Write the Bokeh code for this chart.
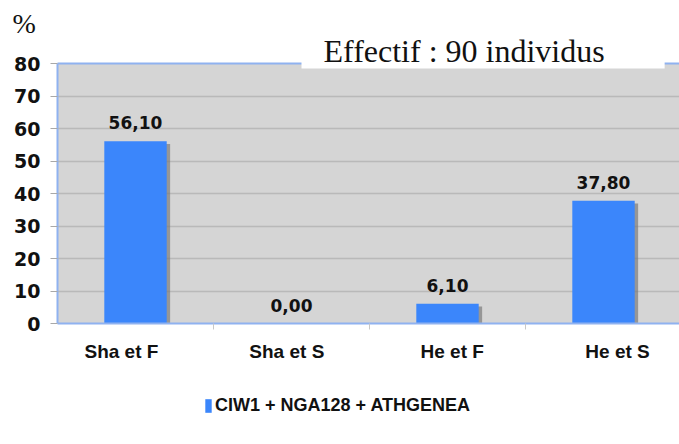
from bokeh.plotting import figure
from bokeh.models import (ColumnDataSource, FixedTicker, Label, Legend, LegendItem,
                          BoxAnnotation, LinearAxis)
from bokeh.core.properties import value
from bokeh.embed import file_html
from bokeh.resources import INLINE

categories = ["Sha et F", "Sha et S", "He et F", "He et S"]
values = [56.10, 0.00, 6.10, 37.80]
y_ticks = [0, 10, 20, 30, 40, 50, 60, 70, 80]
series_name = "CIW1 + NGA128 + ATHGENEA"
note = "Effectif : 90 individus"
unit = "%"

BAR = "#3b86fb"
BORDER = "#8fb2f0"
TXT = "#111111"

W, H = 679, 444
X0_PX, UNIT_X = 57, 156.0     # plot-area left edge and category width (px)
Y0_PX, UNIT_Y = 323, 3.25     # baseline and px per percent
x_start, x_end = -X0_PX / UNIT_X, (W - X0_PX) / UNIT_X
y_start, y_end = -(H - Y0_PX) / UNIT_Y, Y0_PX / UNIT_Y
LABEL_SPREAD = 1.06           # category labels sit slightly spread out

n = len(categories)
xs = [i + 0.5 for i in range(n)]
label_pos = [n / 2 + (i - (n - 1) / 2) * LABEL_SPREAD for i in range(n)]
labels = [f"{v:.2f}".replace(".", ",") for v in values]
src = ColumnDataSource(dict(x=xs, top=values, lab=labels,
                            sx=[x + 0.022 for x in xs],
                            stop=[max(v - 0.9, 0) for v in values]))

p = figure(width=W, height=H, x_range=(x_start, x_end), y_range=(y_start, y_end),
           output_backend="svg", toolbar_location=None,
           min_border=0, min_border_left=0, min_border_right=0,
           min_border_top=0, min_border_bottom=0)
p.background_fill_color = "white"
p.border_fill_color = "white"
p.outline_line_color = None

# plot area background
p.add_layout(BoxAnnotation(left=0, bottom=0, top=y_ticks[-1], fill_color="#d5d5d5",
                           fill_alpha=1, line_color=None, level="image"))

# grid
p.xgrid.grid_line_color = None
p.ygrid.grid_line_color = "#b9b9b9"
p.ygrid.grid_line_width = 1.5
p.ygrid.ticker = FixedTicker(ticks=y_ticks[1:-1])
p.ygrid.cross_bounds = (0, x_end)
p.ygrid.level = "underlay"

# shadow and bars
p.vbar(x="sx", top="stop", width=0.4, bottom=0, source=src,
       fill_color="#7a7a7a", fill_alpha=0.7, line_color=None)
bars = p.vbar(x="x", top="top", width=0.4, bottom=0, source=src,
              fill_color=BAR, line_color=None)

p.text(x="x", y="top", text="lab", source=src, text_align="center",
       text_baseline="bottom", y_offset=-12, text_font_size="17px",
       text_font_style="bold", text_font=value("DejaVu Sans"), text_color=TXT)

# axes
yax = p.yaxis[0]
yax.fixed_location = 0
yax.bounds = (0, y_ticks[-1])
yax.ticker = FixedTicker(ticks=y_ticks)
yax.axis_line_color = BORDER
yax.axis_line_width = 2
yax.major_tick_line_color = "#a8a8a8"
yax.major_tick_out = 7
yax.major_tick_in = 0
yax.minor_tick_line_color = None
yax.major_label_standoff = 10
yax.major_label_text_font = "DejaVu Sans"
yax.major_label_text_font_style = "bold"
yax.major_label_text_font_size = "19px"
yax.major_label_text_color = TXT

# category boundary ticks on the baseline
xax = p.xaxis[0]
xax.fixed_location = 0
xax.bounds = (0, x_end)
xax.ticker = FixedTicker(ticks=[], minor_ticks=[1, 2, 3])
xax.axis_line_color = BORDER
xax.axis_line_width = 2
xax.major_tick_line_color = None
xax.minor_tick_line_color = "#c8c8c8"
xax.minor_tick_out = 6
xax.minor_tick_in = 0
xax.major_label_text_font_size = "0px"

# category labels (spread slightly wider than the bars)
lab_ax = LinearAxis(fixed_location=0, bounds=(0, x_end),
                    ticker=FixedTicker(ticks=label_pos),
                    major_label_overrides={x: c for x, c in zip(label_pos, categories)},
                    axis_line_color=None, major_tick_line_color=None,
                    minor_tick_line_color=None, major_tick_out=0, major_tick_in=0,
                    major_label_standoff=17,
                    major_label_text_font="Liberation Sans",
                    major_label_text_font_style="bold",
                    major_label_text_font_size="19px",
                    major_label_text_color=TXT)
p.add_layout(lab_ax, "below")

# top border of the plot area
top_ax = LinearAxis(fixed_location=y_ticks[-1], bounds=(0, x_end),
                    ticker=FixedTicker(ticks=[]), axis_line_color=BORDER,
                    axis_line_width=2, major_label_text_font_size="0px",
                    major_tick_line_color=None, minor_tick_line_color=None)
p.add_layout(top_ax, "above")

# note with white box
p.add_layout(Label(x=301, y=H - 47, x_units="screen", y_units="screen", text=note,
                   text_baseline="alphabetic",
                   text_font="Liberation Serif", text_font_size="32px",
                   text_color=TXT, background_fill_color="white",
                   padding=dict(left=22, right=60, top=6, bottom=0)))

# unit
p.add_layout(Label(x=12, y=H - 23, x_units="screen", y_units="screen", text=unit,
                   text_baseline="alphabetic",
                   text_font="Liberation Serif", text_font_size="28px",
                   text_color=TXT))

legend = Legend(items=[LegendItem(label=series_name, renderers=[bars])],
                location=(204, 28), orientation="horizontal",
                glyph_width=8, glyph_height=17, label_standoff=3,
                padding=0, margin=0, border_line_color=None,
                background_fill_alpha=0,
                label_text_font="Liberation Sans",
                label_text_font_style="bold", label_text_font_size="18px",
                label_text_color=TXT)
p.add_layout(legend)

open("out.html", "w").write(file_html(p, INLINE))
